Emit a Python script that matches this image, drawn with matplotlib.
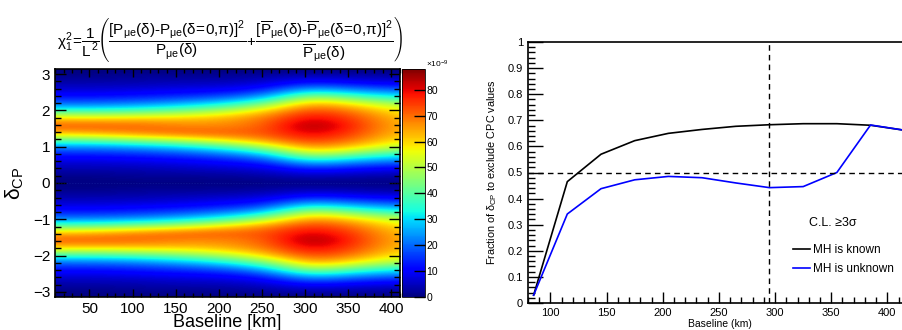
import numpy as np
import matplotlib
matplotlib.use("Agg")
import matplotlib.pyplot as plt
from matplotlib.ticker import MultipleLocator

plt.rcParams['font.family'] = ['Liberation Sans', 'DejaVu Sans']
plt.rcParams['mathtext.fontset'] = 'custom'
plt.rcParams['mathtext.rm'] = 'Liberation Sans'
plt.rcParams['mathtext.it'] = 'Liberation Sans'
plt.rcParams['mathtext.bf'] = 'Liberation Sans:bold'

# ---------------- Left panel data: chi2 map (x1e-9) ----------------
L_nodes = [5, 55, 105, 155, 205, 255, 305, 355, 405]          # km
# delta_CP nodes for the upper half: 0 .. pi in steps of pi/16 (mirrored for lower half)
n_delta_half = 17
chi2_L5   = [0, 1, 4, 7, 13, 22, 40, 62, 72, 62, 40, 22, 13, 7, 4, 1, 0]
chi2_L55  = [0, 1, 4, 7, 13, 22, 41, 64, 72, 61, 40, 22, 13, 7, 4, 1, 0]
chi2_L105 = [0, 2, 4, 8, 14, 24, 45, 68, 71, 62, 42, 24, 14, 8, 4, 2, 0]
chi2_L155 = [0, 2, 5, 9, 16, 28, 50, 71, 68, 62, 46, 28, 16, 9, 5, 2, 0]
chi2_L205 = [0, 2, 6, 11, 20, 35, 58, 72, 67, 64, 52, 34, 19, 10, 5, 2, 0]
chi2_L255 = [0, 3, 7, 14, 27, 48, 66, 72, 71, 69, 62, 46, 27, 14, 7, 3, 0]
chi2_L305 = [0, 5, 14, 30, 52, 67, 76, 82, 87, 82, 76, 67, 52, 30, 14, 5, 0]
chi2_L355 = [0, 4, 11, 24, 42, 60, 70, 75, 77, 75, 70, 60, 42, 24, 11, 4, 0]
chi2_L405 = [0, 3, 9, 20, 34, 50, 58, 62, 63, 62, 58, 50, 34, 20, 9, 3, 0]
chi2_zmax = 88

# ---------------- Right panel data ----------------
baseline_km = [85, 115, 145, 175, 205, 235, 265, 295, 325, 355, 385, 415]
frac_mh_known = [0.03, 0.465, 0.57, 0.622, 0.65, 0.665, 0.677, 0.683, 0.687, 0.687, 0.681, 0.662]
frac_mh_unknown = [0.03, 0.341, 0.438, 0.472, 0.485, 0.48, 0.46, 0.442, 0.446, 0.50, 0.682, 0.662]
ref_baseline = 295
ref_fraction = 0.5

W, H = 903, 330
fig = plt.figure(figsize=(W / 100, H / 100), dpi=100)

def rect(x0, y0, x1, y1):
    return [x0 / W, 1 - y1 / H, (x1 - x0) / W, (y1 - y0) / H]

# ---------- Left: heatmap ----------
ax1 = fig.add_axes(rect(55, 69, 400, 297))
cax = fig.add_axes(rect(402, 69, 425, 297))

Zu = np.array([chi2_L5, chi2_L55, chi2_L105, chi2_L155, chi2_L205,
               chi2_L255, chi2_L305, chi2_L355, chi2_L405], dtype=float).T
Z = np.vstack([Zu[:0:-1], Zu])
dL = L_nodes[1] - L_nodes[0]
dd = np.pi / (n_delta_half - 1)
im = ax1.imshow(Z, origin='lower', aspect='auto', cmap='jet', vmin=0, vmax=chi2_zmax,
                interpolation='bicubic', interpolation_stage='data',
                extent=[L_nodes[0] - dL / 2, L_nodes[-1] + dL / 2,
                        -np.pi - dd / 2, np.pi + dd / 2])
ax1.set_xlim(10, 410)
ax1.set_ylim(-np.pi, np.pi)
ax1.axhline(0, color='#3050c0', lw=0.5, ls=(0, (2, 2)), alpha=0.3)
ax1.xaxis.set_major_locator(MultipleLocator(50))
ax1.xaxis.set_minor_locator(MultipleLocator(10))
ax1.yaxis.set_major_locator(MultipleLocator(1))
ax1.yaxis.set_minor_locator(MultipleLocator(0.2))
ax1.tick_params(which='both', direction='in', top=True, right=True, labelsize=11, width=1)
ax1.tick_params(axis='y', which='major', length=8)
ax1.tick_params(axis='y', which='minor', length=4)
ax1.tick_params(axis='x', which='major', length=6)
ax1.tick_params(axis='x', which='minor', length=3)
ax1.set_xticks([50, 100, 150, 200, 250, 300, 350, 400])
ax1.set_xlabel('Baseline [km]', fontsize=13, labelpad=-1)
ax1.set_ylabel(r'$\delta_{\mathrm{CP}}$', fontsize=15)
ax1.yaxis.set_label_coords(-0.085, 0.5)
for s in ax1.spines.values():
    s.set_linewidth(1.2)

cb = fig.colorbar(im, cax=cax, ticks=list(range(0, 90, 10)))
cb.outline.set_linewidth(0.6)
cax.tick_params(direction='in', length=8, width=1, labelsize=7.5, pad=1)
fig.text(426 / W, 1 - 64 / H, r'$\times10^{-9}$', fontsize=6, va='center', ha='left')

formula = (r'$\chi^2_1\!=\!\dfrac{1}{L^2}\!\left(\dfrac{[P_{\mu e}(\delta)\text{-}P_{\mu e}(\delta\!=\!0{,}\pi)]^2}'
           r'{P_{\mu e}(\delta)}\!+\!\dfrac{[\overline{P}_{\mu e}(\delta)\text{-}\overline{P}_{\mu e}(\delta\!=\!0{,}\pi)]^2}'
           r'{\overline{P}_{\mu e}(\delta)}\right)$')
fig.text(230 / W, 1 - 39 / H, formula, fontsize=11, ha='center', va='center')

# ---------- Right: line chart ----------
ax2 = fig.add_axes(rect(528, 42, 911, 303))
ax2.plot(baseline_km, frac_mh_known, color='black', lw=1.2, label='MH is known')
ax2.plot(baseline_km, frac_mh_unknown, color='#0000ff', lw=1.2, label='MH is unknown')
ax2.axvline(ref_baseline, color='black', lw=1, ls=(0, (4, 3)))
ax2.axhline(ref_fraction, color='black', lw=1, ls=(0, (4, 3)))
ax2.set_xlim(80, 421)
ax2.set_ylim(0, 1)
ax2.xaxis.set_major_locator(MultipleLocator(50))
ax2.xaxis.set_minor_locator(MultipleLocator(10))
ax2.yaxis.set_minor_locator(MultipleLocator(0.02))
ax2.set_yticks(np.arange(0, 1.01, 0.1))
ax2.set_yticklabels(['0'] + ['%.1f' % v for v in np.arange(0.1, 0.95, 0.1)] + ['1'])
ax2.tick_params(which='both', direction='in', labelsize=8, width=1)
ax2.tick_params(axis='y', which='major', length=11)
ax2.tick_params(axis='y', which='minor', length=5)
ax2.tick_params(axis='x', which='major', length=8)
ax2.tick_params(axis='x', which='minor', length=4)
ax2.set_xlabel('Baseline (km)', fontsize=7.5, labelpad=1)
ax2.set_ylabel(r'Fraction of $\delta_{\mathrm{CP}}$ to exclude CPC values', fontsize=7.8)
ax2.yaxis.set_label_coords(-0.075, 0.5)
for s in ax2.spines.values():
    s.set_linewidth(1.2)

ax2.text(555, 0.905, 'Hyper-K Flux, WC, 187 kton', fontsize=12, ha='left', va='center',
         transform=ax2.transData)
ax2.text(0.734, 0.307, 'C.L. \u22653\u03c3', fontsize=9, transform=ax2.transAxes,
         ha='left', va='center')
leg = ax2.legend(loc='upper left', bbox_to_anchor=(0.693, 0.226), frameon=False,
                 fontsize=8.5, handlelength=1.4, handletextpad=0.3, labelspacing=0.6,
                 borderaxespad=0, borderpad=0)

fig.savefig('out.png', dpi=100)
